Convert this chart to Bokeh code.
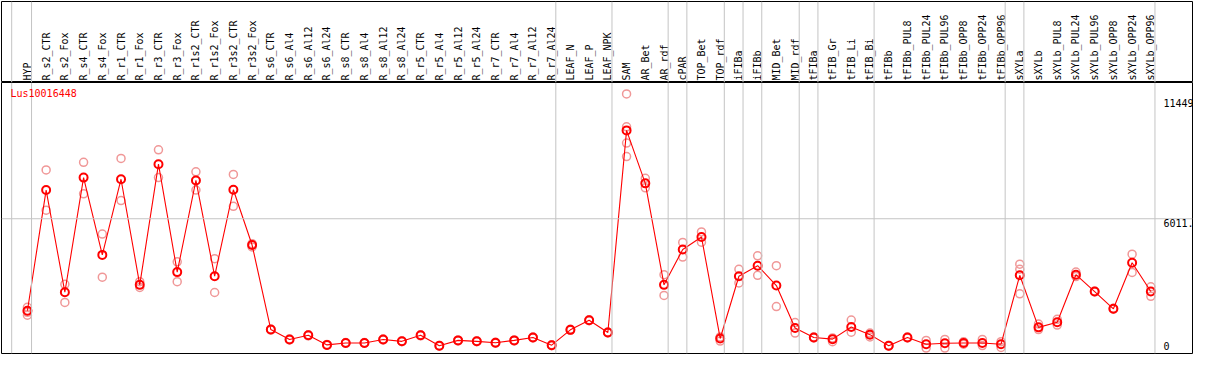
import math
from bokeh.plotting import figure
from bokeh.models import Range1d, Span, Label, ColumnDataSource
from bokeh.layouts import column
from bokeh.core.properties import value
from bokeh.embed import file_html
from bokeh.resources import INLINE

gene = "Lus10016448"

categories = [
    "HYP", "R_s2_CTR", "R_s2_Fox", "R_s4_CTR", "R_s4_Fox", "R_r1_CTR", "R_r1_Fox",
    "R_r3_CTR", "R_r3_Fox", "R_r1s2_CTR", "R_r1s2_Fox", "R_r3s2_CTR", "R_r3s2_Fox",
    "R_s6_CTR", "R_s6_Al4", "R_s6_Al12", "R_s6_Al24", "R_s8_CTR", "R_s8_Al4",
    "R_s8_Al12", "R_s8_Al24", "R_r5_CTR", "R_r5_Al4", "R_r5_Al12", "R_r5_Al24",
    "R_r7_CTR", "R_r7_Al4", "R_r7_Al12", "R_r7_Al24", "LEAF_N", "LEAF_P", "LEAF_NPK",
    "SAM", "AR_Bet", "AR_rdf", "cPAR", "TOP_Bet", "TOP_rdf", "iFIBa", "iFIBb",
    "MID_Bet", "MID_rdf", "tFIBa", "tFIB_Gr", "tFIB_Li", "tFIB_Bi", "tFIBb",
    "tFIBb_PUL8", "tFIBb_PUL24", "tFIBb_PUL96", "tFIBb_OPP8", "tFIBb_OPP24",
    "tFIBb_OPP96", "sXYLa", "sXYLb", "sXYLb_PUL8", "sXYLb_PUL24", "sXYLb_PUL96",
    "sXYLb_OPP8", "sXYLb_OPP24", "sXYLb_OPP96",
]

mean_values = [
    2000, 7262, 2809, 7804, 4436, 7733, 3130, 8389, 3685, 7679,
    3506, 7274, 4866, 1181, 751, 931, 513, 597, 597, 751,
    668, 931, 472, 709, 668, 609, 709, 835, 501, 1169,
    1586, 1056, 9862, 7554, 3130, 4674, 5217, 793, 3506, 3965,
    3101, 1252, 835, 764, 1294, 960, 472, 835, 543, 584,
    597, 597, 543, 3547, 1277, 1502, 3572, 2838, 2087, 4090,
    2838,
]

replicates = [
    [2154, 1932, 1807], [8138, 6385], [3155, 2362], [8472, 7095], [5342, 3464],
    [8639, 6803], [3268, 3017], [9015, 7804], [4132, 3268], [8055, 7262],
    [4270, 2796], [7942, 6552], [4925, 4783], [1200, 1160], [770, 730],
    [950, 910], [530, 495], [615, 580], [615, 580], [770, 730],
    [685, 650], [950, 910], [490, 455], [725, 690], [685, 650],
    [625, 590], [725, 690], [855, 815], [520, 480], [1190, 1150],
    [1605, 1565], [1075, 1035], [11449, 10016, 9307, 8723], [7775, 7358], [3572, 2671],
    [4979, 4340], [5438, 4991], [860, 680], [3810, 3214], [4395, 3547],
    [3965, 2183], [1486, 1027], [855, 815], [818, 651], [1598, 1068],
    [1027, 860], [490, 455], [855, 815], [709, 376], [751, 376],
    [651, 543], [751, 484], [651, 401], [4032, 3810, 2738], [1419, 1181],
    [1628, 1377], [3685, 3489], [2855, 2820], [2105, 2070], [4466, 3673],
    [3047, 2629],
]

group_sizes = [1, 28, 3, 3, 1, 2, 1, 1, 2, 1, 3, 7, 1, 7]

y_ticks = [11449, 6011, 0]
y_tick_labels = ["11449", "6011.", "0"]

assert len(categories) == len(mean_values) == len(replicates) == 61

# ---------------- layout ----------------
W = 1193
HEAD_H = 82
PLOT_H = 272
FONT = "DejaVu Sans Mono"
RED = "#ff0000"
PINK = "#f09898"
GRID = "#c4c4c4"

xr = Range1d(-1.384, 62.225)
yr = Range1d(138, 11949)

def base_fig(h, y_range, top, bottom):
    f = figure(width=W, height=h, x_range=xr, y_range=y_range,
               output_backend="svg", toolbar_location=None,
               x_axis_type=None, y_axis_type=None,
               min_border_left=1, min_border_right=1,
               min_border_top=top, min_border_bottom=bottom,
               background_fill_color="white", border_fill_color="white")
    f.xgrid.visible = False
    f.ygrid.visible = False
    f.outline_line_color = "black"
    f.outline_line_width = 1
    return f

head = base_fig(HEAD_H, Range1d(0, 86), 1, 0)
plot = base_fig(PLOT_H, yr, 0, 1)

# group separator lines (through header and plot)
bounds = [-0.84]
c = 0
for g in group_sizes:
    c += g
    bounds.append(c - 1 + 0.22)
for f in (head, plot):
    for b in bounds:
        f.add_layout(Span(location=b, dimension="height", line_color=GRID, line_width=1))

plot.add_layout(Span(location=y_ticks[1], dimension="width", line_color=GRID, line_width=1))

# header labels
hsrc = ColumnDataSource(dict(x=list(range(len(categories))), text=categories))
head.text(x="x", y=2, text="text", source=hsrc, angle=math.pi / 2,
          text_align="left", text_baseline="middle",
          text_font=value(FONT), text_font_size=value("10px"), text_color="black")

# replicates
rx, ry = [], []
for i, reps in enumerate(replicates):
    for v in reps:
        rx.append(i)
        ry.append(v)
plot.scatter(rx, ry, marker="circle", size=8, fill_color=None,
             line_color=PINK, line_width=1.5)

xs = list(range(len(mean_values)))
plot.line(xs, mean_values, line_color=RED, line_width=1.1)
plot.scatter(xs, mean_values, marker="circle", size=8, fill_color=None,
             line_color=RED, line_width=2)

# value labels on the right
offsets = {"11449": (-5, "top"), "6011.": (0, "top"), "0": (4, "bottom")}
for t, lab in zip(y_ticks, y_tick_labels):
    off, base = offsets[lab]
    yv = max(t, yr.start)
    plot.add_layout(Label(x=1162, x_units="screen", y=yv, y_units="data",
                          y_offset=off, text=lab, text_baseline=base,
                          text_align="left", text_font=FONT,
                          text_font_size="10px", text_color="black"))

plot.add_layout(Label(x=9, x_units="screen", y=PLOT_H - 11.5, y_units="screen",
                      text=gene, text_baseline="middle", text_align="left",
                      text_font=FONT, text_font_size="10px", text_color=RED))

layout = column(head, plot, spacing=0)
open("out.html", "w").write(file_html(layout, INLINE))
